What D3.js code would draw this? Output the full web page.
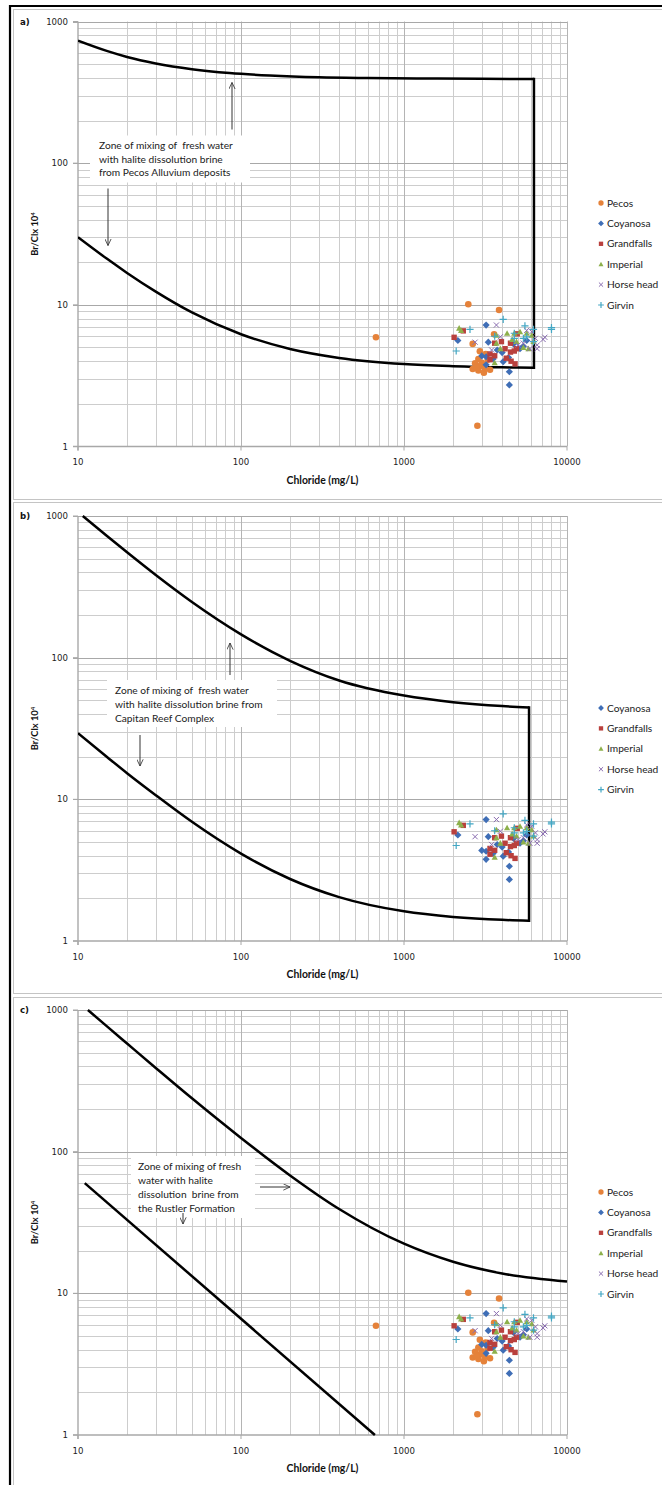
<!DOCTYPE html>
<html><head><meta charset="utf-8">
<script src="https://cdn.jsdelivr.net/npm/d3@7"></script>
<style>body{margin:0;background:#fff} text{white-space:pre}</style>
</head><body><svg id="c" width="662" height="1485" xmlns="http://www.w3.org/2000/svg"></svg>
<script>
// ---------------- DATA ----------------
const xTickValues = [10, 100, 1000, 10000];
const xTickLabels = ["10", "100", "1000", "10000"];
const yTickValues = [1, 10, 100, 1000];
const yTickLabels = ["1", "10", "100", "1000"];
const seriesNames = ["Pecos", "Coyanosa", "Grandfalls", "Imperial", "Horse head", "Girvin"];

const pecosCl = [673, 2480, 3830, 3570, 2640, 2920, 3170, 2860, 3260, 2730, 2920, 2640, 2860, 3090, 3140, 3370, 2820, 3000, 2780];
const pecosBr = [5.9, 10.1, 9.2, 6.2, 5.3, 4.7, 4.5, 4.15, 4.1, 3.87, 3.7, 3.52, 3.44, 3.32, 3.58, 3.48, 1.40, 3.9, 3.6];
const coyanosaCl = [3190, 2140, 3290, 3000, 3190, 3520, 4060, 4380, 3190, 4430, 4430, 5660, 5150, 3730, 4700, 5400, 4000];
const coyanosaBr = [7.2, 5.6, 5.45, 4.36, 4.3, 4.15, 3.97, 4.25, 3.77, 3.37, 2.72, 5.6, 4.9, 4.8, 5.3, 5.1, 4.6];
const grandfallsCl = [2030, 2310, 3600, 4500, 4950, 3370, 3370, 3600, 4170, 4500, 4750, 4240, 4540, 4800, 3960, 4900];
const grandfallsBr = [5.9, 6.55, 5.36, 5.36, 6.24, 4.5, 4.1, 4.37, 4.9, 4.64, 4.72, 4.2, 4.0, 3.83, 5.5, 4.9];
const imperialCl = [2180, 2240, 3690, 4290, 4750, 5150, 5660, 6080, 3690, 3900, 4610, 4900, 5400, 5800, 3600, 6230];
const imperialBr = [6.84, 6.6, 6.1, 6.3, 6.3, 6.45, 6.3, 6.1, 5.36, 4.9, 5.7, 5.5, 5.0, 4.9, 3.9, 5.5];
const horseheadCl = [3690, 2730, 5660, 6080, 6400, 6560, 7130, 7310, 5920, 5400, 5010, 3450, 3900, 6560];
const horseheadBr = [7.2, 5.45, 6.6, 6.45, 5.8, 5.2, 5.7, 5.9, 4.9, 5.36, 5.2, 4.8, 5.95, 4.9];
const girvinCl = [2090, 2540, 4060, 8030, 8030, 5520, 6230, 4750, 5660, 3600, 6230, 5400, 4750];
const girvinBr = [4.72, 6.7, 7.9, 6.7, 6.9, 7.1, 6.7, 6.3, 5.95, 6.0, 5.5, 5.8, 5.8];

// mixing-zone boundary curves
const aUpperCl = [10, 15, 20, 30, 50, 85, 150, 300, 600, 1200, 3000, 6270];
const aUpperBr = [732, 620, 562, 506, 461, 433, 416, 404, 399, 396, 394, 393];
const aLowerCl = [10, 15, 20, 30, 50, 100, 200, 400, 1000, 2000, 4000, 6270];
const aLowerBr = [30, 21.2, 16.8, 12.4, 8.84, 6.2, 4.88, 4.22, 3.82, 3.69, 3.62, 3.6];
const bUpperCl = [10.7, 15, 20, 30, 50, 100, 200, 400, 1000, 2000, 4000, 5850];
const bUpperBr = [1000, 725, 554, 383, 247, 146, 95, 69, 54, 48.5, 45.5, 44.5];
const bLowerCl = [10, 15, 20, 30, 50, 100, 200, 400, 1000, 2000, 4000, 5850];
const bLowerBr = [29.3, 20.0, 15.3, 10.7, 6.94, 4.14, 2.74, 2.04, 1.62, 1.48, 1.41, 1.39];
const cUpperCl = [11.5, 15, 20, 30, 50, 100, 200, 400, 1000, 2000, 4000, 10000];
const cUpperBr = [1000, 769, 580, 390, 238, 125, 68, 39.4, 22.4, 16.7, 13.8, 12.1];
const cLowerCl = [11, 663];
const cLowerBr = [60, 1];

const panelLabels = ["a)", "b)", "c)"];
const noteA = ["Zone of mixing of  fresh water", "with halite dissolution brine", "from Pecos Alluvium deposits"];
const noteB = ["Zone of mixing of  fresh water", "with halite dissolution brine from", "Capitan Reef Complex"];
const noteC = ["Zone of mixing of fresh", "water with halite", "dissolution  brine from", "the Rustler Formation"];
const xTitle = "Chloride (mg/L)";

// ---------------- LAYOUT / STYLE ----------------
const svg = d3.select("#c");
const X0 = 78, X1 = 567, PH = 425;
const x = d3.scaleLog().domain([10, 10000]).range([X0, X1]);

const seriesData = [
  [pecosCl, pecosBr], [coyanosaCl, coyanosaBr], [grandfallsCl, grandfallsBr],
  [imperialCl, imperialBr], [horseheadCl, horseheadBr], [girvinCl, girvinBr]
];
const seriesStyle = [
  {type: "circle", color: "#E5823A"},
  {type: "diamond", color: "#3F6EB6"},
  {type: "square", color: "#B9403D"},
  {type: "triangle", color: "#8DB04B"},
  {type: "x", color: "#8A6DB0"},
  {type: "plus", color: "#44A7C4"}
];

const panels = [
  {frameTop: 9, frameH: 490, top: 21.5, series: [0,1,2,3,4,5], legendTop: 181.5,
   upper: [aUpperCl, aUpperBr], lower: [aLowerCl, aLowerBr], box: true,
   note: noteA, noteBox: [90, 114, 160, 47], noteX: 99, noteY0: 124, lh: 13.6,
   arrows: [[232, 108, 232, 61], [108, 167, 108, 224]]},
  {frameTop: 502, frameH: 491, top: 516, series: [1,2,3,4,5], legendTop: 192,
   upper: [bUpperCl, bUpperBr], lower: [bLowerCl, bLowerBr], box: true,
   note: noteB, noteBox: [107, 164, 170, 47], noteX: 115, noteY0: 174, lh: 14,
   arrows: [[230, 159, 230, 127], [140, 219, 140, 250]]},
  {frameTop: 997, frameH: 600, top: 1010, series: [0,1,2,3,4,5], legendTop: 182,
   upper: [cUpperCl, cUpperBr], lower: [cLowerCl, cLowerBr], box: false,
   note: noteC, noteBox: [131, 146, 124, 62], noteX: 138, noteY0: 156, lh: 14,
   arrows: [[260, 177, 290, 177], [183, 203, 183, 214]]}
];

const tickFont = "'DejaVu Sans', Verdana, sans-serif";
const textFont = "Lato, 'Open Sans', sans-serif";

svg.append("rect").attr("width", 662).attr("height", 1485).attr("fill", "#fff");

// arrow marker
svg.append("defs").append("marker")
  .attr("id", "arr").attr("viewBox", "0 0 10 10").attr("refX", 9.5).attr("refY", 5)
  .attr("markerWidth", 7).attr("markerHeight", 7).attr("markerUnits", "userSpaceOnUse")
  .attr("orient", "auto")
  .append("path").attr("d", "M0,0.5 L9.5,5 L0,9.5").attr("fill", "none")
  .attr("stroke", "#333").attr("stroke-width", 1.2);

function marker(g, type, color, px, py, s) {
  if (type === "circle") {
    g.append("circle").attr("cx", px).attr("cy", py).attr("r", 3.3 * s).attr("fill", color);
  } else if (type === "diamond") {
    const r = 3.6 * s;
    g.append("path").attr("d", `M${px},${py - r}L${px + r},${py}L${px},${py + r}L${px - r},${py}Z`).attr("fill", color);
  } else if (type === "square") {
    const r = 2.7 * s;
    g.append("rect").attr("x", px - r).attr("y", py - r).attr("width", 2 * r).attr("height", 2 * r).attr("fill", color);
  } else if (type === "triangle") {
    const r = 3.1 * s;
    g.append("path").attr("d", `M${px},${py - r}L${px + r},${py + r * 0.8}L${px - r},${py + r * 0.8}Z`).attr("fill", color);
  } else if (type === "x") {
    const r = 2.6 * s;
    g.append("path").attr("d", `M${px - r},${py - r}L${px + r},${py + r}M${px - r},${py + r}L${px + r},${py - r}`)
      .attr("stroke", color).attr("stroke-width", 1).attr("fill", "none");
  } else if (type === "plus") {
    const r = 3.6 * s;
    g.append("path").attr("d", `M${px - r},${py}L${px + r},${py}M${px},${py - r}L${px},${py + r}`)
      .attr("stroke", color).attr("stroke-width", 1.2).attr("fill", "none");
  }
}

panels.forEach((P, pi) => {
  const T = P.top, B = T + PH;
  const y = d3.scaleLog().domain([1, 1000]).range([B, T]);
  const g = svg.append("g");

  // panel frame
  g.append("rect").attr("x", 13.5).attr("y", P.frameTop + 0.5).attr("width", 700).attr("height", P.frameH)
    .attr("fill", "#fff").attr("stroke", "#c4c4c4").attr("stroke-width", 1);

  // grid
  const minorX = [], majorX = [], minorY = [], majorY = [];
  [10, 100, 1000].forEach(d => { for (let m = 1; m <= 9; m++) (m === 1 ? majorX : minorX).push(d * m); });
  majorX.push(10000);
  [1, 10, 100].forEach(d => { for (let m = 1; m <= 9; m++) (m === 1 ? majorY : minorY).push(d * m); });
  majorY.push(1000);
  const grid = g.append("g").attr("fill", "none");
  minorX.forEach(v => grid.append("line").attr("x1", Math.round(x(v)) + 0.5).attr("x2", Math.round(x(v)) + 0.5)
    .attr("y1", T).attr("y2", B).attr("stroke", "#cdcdcd"));
  minorY.forEach(v => grid.append("line").attr("y1", Math.round(y(v)) + 0.5).attr("y2", Math.round(y(v)) + 0.5)
    .attr("x1", X0).attr("x2", X1).attr("stroke", "#cdcdcd"));
  majorX.slice(1).forEach(v => grid.append("line").attr("x1", Math.round(x(v)) + 0.5).attr("x2", Math.round(x(v)) + 0.5)
    .attr("y1", T).attr("y2", B).attr("stroke", "#b4b4b4"));
  majorY.slice(1).forEach(v => grid.append("line").attr("y1", Math.round(y(v)) + 0.5).attr("y2", Math.round(y(v)) + 0.5)
    .attr("x1", X0 - 5).attr("x2", X1).attr("stroke", "#a8a8a8"));

  // axes
  g.append("line").attr("x1", X0).attr("x2", X0).attr("y1", T).attr("y2", B + 4)
    .attr("stroke", "#a8a8a8").attr("stroke-width", 1.4);
  g.append("line").attr("x1", X0 - 5).attr("x2", X1).attr("y1", B).attr("y2", B)
    .attr("stroke", "#a8a8a8").attr("stroke-width", 1.4);
  xTickValues.forEach(v => g.append("line").attr("x1", x(v)).attr("x2", x(v)).attr("y1", B).attr("y2", B + 4)
    .attr("stroke", "#a8a8a8"));
  yTickValues.forEach(v => g.append("line").attr("x1", X0 - 5).attr("x2", X0).attr("y1", y(v)).attr("y2", y(v))
    .attr("stroke", "#a8a8a8"));

  // tick labels
  xTickValues.forEach((v, i) => g.append("text").attr("x", x(v)).attr("y", B + 15.5).attr("dy", "0.35em")
    .attr("text-anchor", "middle").attr("font-family", tickFont).attr("font-size", 8.6).attr("fill", "#222")
    .text(xTickLabels[i]));
  yTickValues.forEach((v, i) => g.append("text").attr("x", 68).attr("y", y(v)).attr("dy", "0.35em")
    .attr("text-anchor", "end").attr("font-family", tickFont).attr("font-size", 8.6).attr("fill", "#222")
    .text(yTickLabels[i]));

  // panel label
  g.append("text").attr("x", 20).attr("y", T).attr("dy", "0.35em").attr("font-family", tickFont)
    .attr("font-weight", "bold").attr("font-size", 8.6).attr("fill", "#111").text(panelLabels[pi]);

  // axis titles
  g.append("text").attr("x", (X0 + X1) / 2).attr("y", B + 33.5).attr("dy", "0.35em").attr("text-anchor", "middle")
    .attr("font-family", textFont).attr("font-weight", "bold").attr("font-size", 10.4).attr("fill", "#111")
    .text(xTitle);
  const yt = g.append("text").attr("transform", `translate(35,${(T + B) / 2}) rotate(-90)`).attr("dy", "0.35em")
    .attr("text-anchor", "middle").attr("font-family", textFont).attr("font-weight", "bold")
    .attr("font-size", 9.4).attr("fill", "#111");
  yt.append("tspan").text("Br/Clx 10");
  yt.append("tspan").attr("font-size", 6).attr("dy", "-3").text("4");

  // clip
  const cid = "clip" + pi;
  svg.select("defs").append("clipPath").attr("id", cid).append("rect")
    .attr("x", X0).attr("y", T - 1).attr("width", X1 - X0 + 2).attr("height", PH + 2);

  // annotation box (behind curves, above grid)
  const nb = P.noteBox;
  g.append("rect").attr("x", nb[0]).attr("y", T + nb[1]).attr("width", nb[2]).attr("height", nb[3]).attr("fill", "#fff");
  P.note.forEach((s, i) => g.append("text").attr("x", P.noteX).attr("y", T + P.noteY0 + i * P.lh).attr("dy", "0.35em")
    .attr("font-family", textFont).attr("font-size", 10.2).attr("fill", "#222").text(s));
  P.arrows.forEach(a => g.append("line").attr("x1", a[0]).attr("y1", T + a[1]).attr("x2", a[2]).attr("y2", T + a[3])
    .attr("stroke", "#333").attr("stroke-width", 1).attr("marker-end", "url(#arr)"));

  // curves
  const line = d3.line().x(d => x(d[0])).y(d => y(d[1])).curve(d3.curveMonotoneX);
  const cg = g.append("g").attr("clip-path", `url(#${cid})`).attr("fill", "none").attr("stroke", "#000")
    .attr("stroke-width", 2.5).attr("stroke-linejoin", "miter");
  const up = P.upper[0].map((c, i) => [c, P.upper[1][i]]);
  const lo = P.lower[0].map((c, i) => [c, P.lower[1][i]]);
  cg.append("path").attr("d", line(up));
  cg.append("path").attr("d", line(lo));
  if (P.box) {
    const ue = up[up.length - 1], le = lo[lo.length - 1];
    cg.append("path").attr("d", `M${x(ue[0]) - 1.2},${y(ue[1])}H${x(ue[0])}V${y(le[1])}H${x(le[0]) - 1.2}`);
  }

  // points
  const pg = g.append("g");
  P.series.forEach(si => {
    const [cl, br] = seriesData[si];
    const st = seriesStyle[si];
    cl.forEach((c, i) => marker(pg, st.type, st.color, x(c), y(br[i]), 1));
  });

  // legend
  const lg = g.append("g");
  P.series.forEach((si, k) => {
    const ly = T + P.legendTop + k * 20.4;
    const st = seriesStyle[si];
    marker(lg, st.type, st.color, 601, ly, 0.8);
    lg.append("text").attr("x", 607).attr("y", ly).attr("dy", "0.35em").attr("font-family", textFont)
      .attr("font-size", 10.2).attr("fill", "#222").text(seriesNames[si]);
  });
});

// outer black frame
svg.append("path").attr("d", "M10,1485V6H662").attr("fill", "none").attr("stroke", "#000").attr("stroke-width", 2.2);
</script>
</body></html>
